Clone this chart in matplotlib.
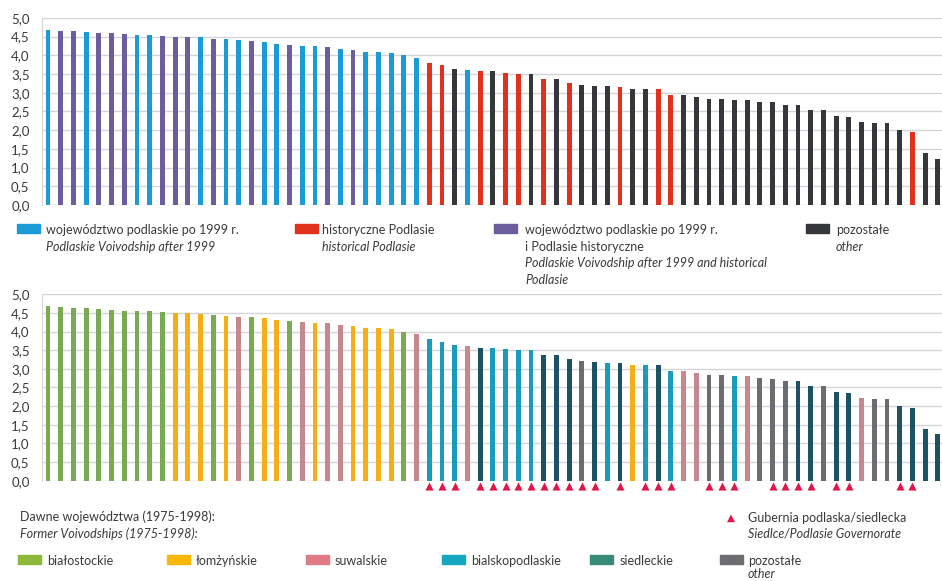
import numpy as np
import matplotlib
matplotlib.use("Agg")
import matplotlib.pyplot as plt
import matplotlib.transforms as mtransforms
from matplotlib.patches import Rectangle

plt.rcParams['font.family'] = ['Lato', 'DejaVu Sans']

# mean values, sorted (same order in both panels)
values = [4.69, 4.66, 4.64, 4.62, 4.60, 4.59, 4.56, 4.55, 4.54, 4.52,
          4.50, 4.50, 4.48, 4.44, 4.43, 4.40, 4.39, 4.36, 4.30, 4.27,
          4.25, 4.24, 4.23, 4.17, 4.15, 4.10, 4.09, 4.06, 4.00, 3.94,
          3.79, 3.73, 3.63, 3.62, 3.57, 3.57, 3.54, 3.51, 3.51, 3.37,
          3.36, 3.26, 3.20, 3.19, 3.17, 3.15, 3.11, 3.10, 3.09, 2.95,
          2.93, 2.89, 2.84, 2.84, 2.80, 2.80, 2.75, 2.74, 2.68, 2.67,
          2.55, 2.53, 2.38, 2.34, 2.22, 2.18, 2.18, 2.01, 1.96, 1.40, 1.24]

# top panel groups: B = podlaskie po 1999, P = both, R = historyczne Podlasie, K = pozostałe
top_groups = list("BPPBPPPBBPPPBPBBPBBPBBPBPBBBBB" "RRKBRKRRKRKRKKKRKKRR" "KKKKKKKKKKKKKKKKKK" "RKK")

# bottom panel groups: former voivodships 1975-1998
bottom_groups = (["bia"] * 10 +
                 ["lom", "lom", "lom", "bia", "lom", "suw", "bia", "lom", "lom", "bia",
                  "suw", "lom", "suw", "suw", "lom", "lom", "lom", "lom", "bia", "suw",
                  "bp", "bp", "bp", "suw", "sd", "bp", "bp", "bp", "bp", "sd",
                  "sd", "sd", "oth", "sd", "bp", "sd", "lom", "bp", "sd", "bp",
                  "suw", "suw", "oth", "oth", "bp", "suw", "oth", "oth", "oth", "sd",
                  "sd", "oth", "sd", "sd", "suw", "oth", "oth", "sd", "sd", "sd", "sd"])

# bars belonging to Gubernia podlaska/siedlecka (1-based)
gubernia = [31, 32, 33, 35, 36, 37, 38, 39, 40, 41, 42, 43, 44, 46, 48, 49, 50,
            53, 54, 55, 58, 59, 60, 61, 63, 64, 68, 69]

yticks = [0, 0.5, 1, 1.5, 2, 2.5, 3, 3.5, 4, 4.5, 5]
ytick_labels = ["0,0", "0,5", "1,0", "1,5", "2,0", "2,5", "3,0", "3,5", "4,0", "4,5", "5,0"]

top_colors = {"B": "#1C9AD6", "P": "#6C5E9E", "R": "#E0301E", "K": "#35373A"}
bottom_colors = {"bia": "#7BAA55", "lom": "#F6AE17", "suw": "#C6878E",
                 "bp": "#1A9BBB", "sd": "#1D5264", "oth": "#6B6D70"}
legend_bottom_colors = {"bia": "#8DB83A", "lom": "#F8B800", "suw": "#E07A84",
                        "bp": "#17A6C2", "sd": "#3A8A7C", "oth": "#6B6D70"}

x = np.arange(len(values))
text_col = "#3A3A3A"
fs = 9.0


def style_axes(ax):
    ax.set_ylim(0, 5)
    ax.set_xlim(-0.47, len(values) - 0.67)
    ax.set_yticks(yticks)
    ax.set_yticklabels(ytick_labels, fontsize=9.5, color=text_col)
    ax.set_xticks([])
    ax.yaxis.grid(True, color="#D4D5D8", linewidth=1.0)
    ax.set_axisbelow(True)
    for s in ["top", "right", "bottom"]:
        ax.spines[s].set_visible(False)
    ax.spines["left"].set_color("#D4D5D8")
    ax.tick_params(axis="y", length=0, pad=9)


fig = plt.figure(figsize=(9.42, 5.81), dpi=100)

ax1 = fig.add_axes([0.0446, 0.6472, 0.9554, 0.3219])
ax1.bar(x, values, width=0.38, color=[top_colors[g] for g in top_groups], zorder=2)
style_axes(ax1)

ax2 = fig.add_axes([0.0446, 0.1726, 0.9554, 0.3209])
ax2.bar(x, values, width=0.38, color=[bottom_colors[g] for g in bottom_groups], zorder=2)
style_axes(ax2)

# Gubernia markers just below the axis
trans = mtransforms.blended_transform_factory(ax2.transData, ax2.transAxes)
gx = [i - 1 for i in gubernia]
ax2.scatter(gx, [-0.028] * len(gx), marker="^", s=34, color="#E0164A",
            transform=trans, clip_on=False, linewidths=0, zorder=3)

W, H = 942.0, 581.0


def swatch(xp, yp, color, w=23, h=9):
    fig.patches.append(Rectangle((xp / W, 1 - (yp + h / 2) / H), w / W, h / H,
                                 transform=fig.transFigure, color=color))


def label(xp, yp, s, italic=False):
    fig.text(xp / W, 1 - yp / H, s, fontsize=fs, color=text_col, va="center",
             ha="left", style="italic" if italic else "normal")


# top legend
swatch(17, 228, top_colors["B"])
label(46, 230, "województwo podlaskie po 1999 r.")
label(46, 247, "Podlaskie Voivodship after 1999", italic=True)
swatch(295, 228, top_colors["R"])
label(322, 230, "historyczne Podlasie")
label(322, 247, "historical Podlasie", italic=True)
swatch(494, 228, top_colors["P"])
label(525, 230, "województwo podlaskie po 1999 r.")
label(525, 247, "i Podlasie historyczne")
label(525, 263, "Podlaskie Voivodship after 1999 and historical", italic=True)
label(525, 280, "Podlasie", italic=True)
swatch(806, 228, top_colors["K"])
label(836, 230, "pozostałe")
label(836, 247, "other", italic=True)

# bottom legend
label(20, 517, "Dawne województwa (1975-1998):")
label(20, 534, "Former Voivodships (1975-1998):", italic=True)
swatch(18, 559, legend_bottom_colors["bia"])
label(47, 561, "białostockie")
swatch(167, 559, legend_bottom_colors["lom"])
label(196, 561, "łomżyńskie")
swatch(306, 559, legend_bottom_colors["suw"])
label(335, 561, "suwalskie")
swatch(442, 559, legend_bottom_colors["bp"])
label(471, 561, "bialskopodlaskie")
swatch(590, 559, legend_bottom_colors["sd"])
label(620, 561, "siedleckie")
swatch(720, 559, legend_bottom_colors["oth"])
label(748, 561, "pozostałe")
label(748, 574, "other", italic=True)
fig.text(731 / W, 1 - 518 / H, "▲", fontsize=7.5, color="#E0164A", ha="center", va="center",
         family=["DejaVu Sans"])
label(748, 518, "Gubernia podlaska/siedlecka")
label(748, 534, "Siedlce/Podlasie Governorate", italic=True)

fig.savefig("out.png", dpi=100)
